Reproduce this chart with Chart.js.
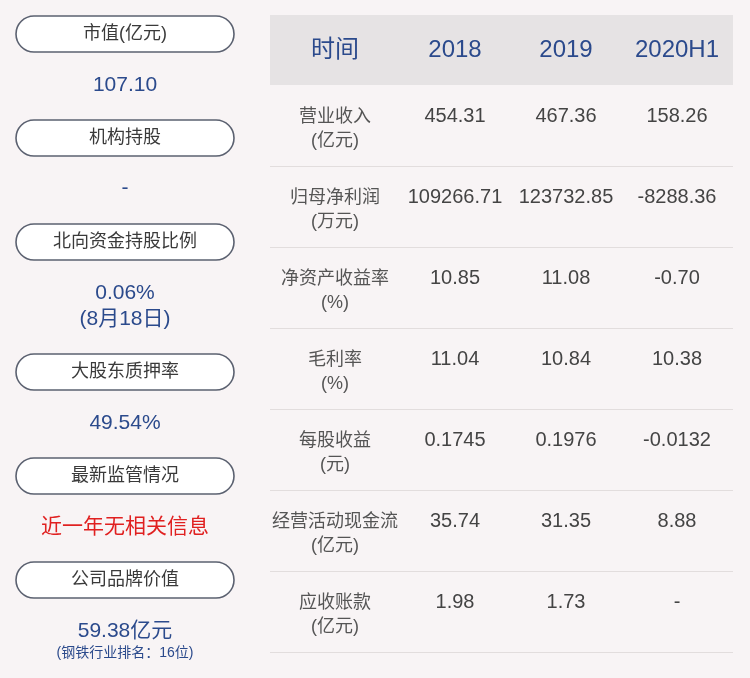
<!DOCTYPE html>
<html><head><meta charset="utf-8">
<script src="https://cdn.jsdelivr.net/npm/chart.js@4"></script>
<style>html,body{margin:0;padding:0;background:#f8f4f5;}canvas{display:block}</style>
</head><body>
<canvas id="c" width="750" height="678"></canvas>
<script>
const pillLabels = ["市值(亿元)","机构持股","北向资金持股比例","大股东质押率","最新监管情况","公司品牌价值"];
const pillValues = [["107.10"],["-"],["0.06%","(8月18日)"],["49.54%"],["近一年无相关信息"],["59.38亿元"]];
const pillNote = "(钢铁行业排名：16位)";
const headers = ["时间","2018","2019","2020H1"];
const rowLabels = [["营业收入","(亿元)"],["归母净利润","(万元)"],["净资产收益率","(%)"],["毛利率","(%)"],["每股收益","(元)"],["经营活动现金流","(亿元)"],["应收账款","(亿元)"]];
const col2018 = ["454.31","109266.71","10.85","11.04","0.1745","35.74","1.98"];
const col2019 = ["467.36","123732.85","11.08","10.84","0.1976","31.35","1.73"];
const col2020 = ["158.26","-8288.36","-0.70","10.38","-0.0132","8.88","-"];

const F = '"Liberation Sans", "Noto Sans CJK SC", sans-serif';
const pillY = [34,138,242,372,476,580];
const valY = [[85],[188],[293,319],[423],[527],[631]];

const tablePlugin = {
  id:'table',
  afterDraw(chart){
    const ctx = chart.ctx;
    ctx.save();
    ctx.textAlign='center'; ctx.textBaseline='middle';
    pillLabels.forEach((t,i)=>{
      const y=pillY[i];
      ctx.beginPath(); ctx.roundRect(16,y-18,218,36,18);
      ctx.fillStyle='#ffffff'; ctx.fill();
      ctx.lineWidth=1.6; ctx.strokeStyle='#5b6170'; ctx.stroke();
      ctx.fillStyle='#3a3a3a'; ctx.font='18px '+F; ctx.fillText(t,125,y);
      pillValues[i].forEach((v,j)=>{
        ctx.fillStyle = i===4 ? '#e02020' : '#2b4a8c';
        ctx.font = '21px '+F;
        ctx.fillText(v,125,valY[i][j]);
      });
    });
    ctx.fillStyle='#2b4a8c'; ctx.font='14px '+F; ctx.fillText(pillNote,125,653);
    ctx.fillStyle='#e6e3e4'; ctx.fillRect(270,15,463,70);
    const cx=[335,455,566,677];
    ctx.fillStyle='#2b4a8c'; ctx.font='24px '+F;
    headers.forEach((h,i)=>ctx.fillText(h,cx[i],50));
    const cols=[col2018,col2019,col2020];
    rowLabels.forEach((lab,r)=>{
      const top=85+81*r;
      ctx.fillStyle='#555555'; ctx.font='18px '+F;
      ctx.fillText(lab[0],cx[0],top+32); ctx.fillText(lab[1],cx[0],top+56);
      ctx.fillStyle='#444444'; ctx.font='20px '+F;
      cols.forEach((c,k)=>ctx.fillText(c[r],cx[k+1],top+31));
      ctx.strokeStyle='#e2dddd'; ctx.lineWidth=1;
      ctx.beginPath(); ctx.moveTo(270,top+81.5); ctx.lineTo(733,top+81.5); ctx.stroke();
    });
    ctx.restore();
  }
};
new Chart(document.getElementById('c'),{
  type:'bar',
  data:{labels:headers.slice(1),datasets:[]},
  options:{responsive:false,animation:false,devicePixelRatio:1,
    plugins:{legend:{display:false},tooltip:{enabled:false}},
    scales:{x:{display:false},y:{display:false}}},
  plugins:[tablePlugin]
});
</script>
</body></html>
